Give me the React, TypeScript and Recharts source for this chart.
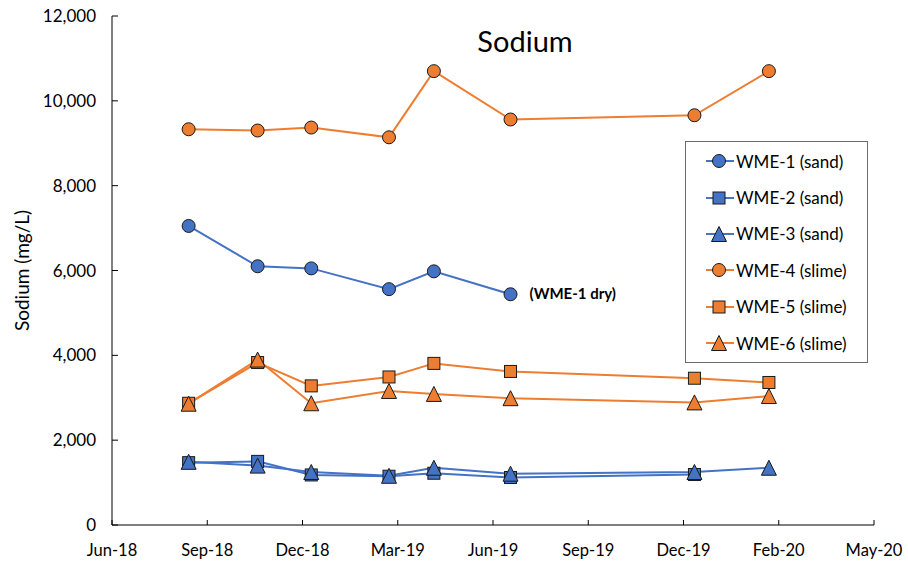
import { LineChart, Line, XAxis, YAxis, Legend, LabelList } from "recharts";

const BLUE = "#4472C4";
const ORANGE = "#ED7D31";
const EDGE = "#1a1a1a";

// sampling dates
const SAMPLE_DATES = ["2018-09-08", "2018-11-10", "2018-12-29", "2019-03-10", "2019-04-20", "2019-06-29", "2019-12-14", "2020-02-20"];

// Na, mg/L
const WME1 = [7050, 6100, 6050, 5560, 5980, 5440, null, null];
const WME2 = [1470, 1500, 1180, 1150, 1220, 1120, 1190, null];
const WME3 = [1490, 1400, 1250, 1160, 1350, 1210, 1250, 1350];
const WME4 = [9330, 9300, 9370, 9140, 10700, 9560, 9660, 10700];
const WME5 = [2870, 3830, 3280, 3490, 3810, 3620, 3460, 3360];
const WME6 = [2860, 3900, 2870, 3160, 3090, 2990, 2890, 3040];

const TICK_DATES = ["2018-06-30", "2018-09-25", "2018-12-21", "2019-03-18", "2019-06-13", "2019-09-08", "2019-12-04", "2020-02-29", "2020-05-26"];
const TICK_LABELS = ["Jun-18", "Sep-18", "Dec-18", "Mar-19", "Jun-19", "Sep-19", "Dec-19", "Feb-20", "May-20"];
const Y_TICKS = [0, 2000, 4000, 6000, 8000, 10000, 12000];

const DAY0 = Date.parse(TICK_DATES[0]);
const toDay = (s: string) => Math.round((Date.parse(s) - DAY0) / 86400000);
const X_TICKS = TICK_DATES.map(toDay);

const SERIES = [
  { key: "wme1", name: "WME-1 (sand)", color: BLUE, shape: "circle", values: WME1 },
  { key: "wme2", name: "WME-2 (sand)", color: BLUE, shape: "square", values: WME2 },
  { key: "wme3", name: "WME-3 (sand)", color: BLUE, shape: "triangle", values: WME3 },
  { key: "wme4", name: "WME-4 (slime)", color: ORANGE, shape: "circle", values: WME4 },
  { key: "wme5", name: "WME-5 (slime)", color: ORANGE, shape: "square", values: WME5 },
  { key: "wme6", name: "WME-6 (slime)", color: ORANGE, shape: "triangle", values: WME6 },
];

const data = SAMPLE_DATES.map((d, i) => {
  const row: Record<string, number | null> = { day: toDay(d) };
  SERIES.forEach(s => { row[s.key] = s.values[i]; });
  return row;
});

const FONT = "Lato, 'Open Sans', sans-serif";

function Marker({ shape, cx, cy, fill }: { shape: string; cx: number; cy: number; fill: string }) {
  if (shape === "circle") return <circle cx={cx} cy={cy} r={6.5} fill={fill} stroke={EDGE} strokeWidth={1} />;
  if (shape === "square") return <rect x={cx - 6} y={cy - 6} width={12} height={12} fill={fill} stroke={EDGE} strokeWidth={1} />;
  return <polygon points={`${cx},${cy - 7.5} ${cx + 7.5},${cy + 7.5} ${cx - 7.5},${cy + 7.5}`} fill={fill} stroke={EDGE} strokeWidth={1} />;
}

function LegendBox() {
  return (
    <div style={{ border: "1px solid #6b6b6b", background: "#fff", width: 183, height: 222, boxSizing: "border-box", paddingTop: 1 }}>
      {SERIES.map(s => (
        <div key={s.key} style={{ display: "flex", alignItems: "center", height: 36.4, paddingLeft: 20 }}>
          <svg width={28} height={18}>
            <line x1={0} x2={28} y1={9} y2={9} stroke={s.color} strokeWidth={2} />
            <Marker shape={s.shape} cx={13} cy={9} fill={s.color} />
          </svg>
          <span style={{ fontFamily: FONT, fontSize: 17, color: "#000", marginLeft: 2 }}>{s.name}</span>
        </div>
      ))}
    </div>
  );
}

export default function App() {
  return (
    <div style={{ position: "absolute", left: 0, top: 0, width: 908, height: 562, background: "#fff" }}>
      <div style={{ position: "absolute", left: 0, top: 23, width: 1050, textAlign: "center", fontFamily: FONT, fontSize: 29, color: "#000", zIndex: 2 }}>
        Sodium
      </div>
      <LineChart width={908} height={562} data={data} margin={{ top: 16, right: 34, bottom: 7, left: 0 }}>
        <XAxis
          dataKey="day"
          type="number"
          domain={[X_TICKS[0], X_TICKS[X_TICKS.length - 1]]}
          ticks={X_TICKS}
          tickFormatter={(v: number) => TICK_LABELS[X_TICKS.indexOf(v)]}
          interval={0}
          tickSize={-5}
          tickMargin={24}
          axisLine={{ stroke: "#000" }}
          tickLine={{ stroke: "#000" }}
          tick={{ fill: "#000", fontSize: 16.5, fontFamily: FONT }}
        />
        <YAxis
          domain={[0, 12000]}
          ticks={Y_TICKS}
          width={112}
          interval={0}
          tickSize={-6}
          tickMargin={22}
          tickFormatter={(v: number) => v.toLocaleString("en-US")}
          axisLine={{ stroke: "#000" }}
          tickLine={{ stroke: "#000" }}
          tick={{ fill: "#000", fontSize: 17, fontFamily: FONT }}
          label={{ value: "Sodium (mg/L)", angle: -90, position: "insideLeft", offset: 22, style: { textAnchor: "middle", fontSize: 19, fontFamily: FONT, fill: "#000" } }}
        />
        {SERIES.map(s => (
          <Line
            key={s.key}
            dataKey={s.key}
            name={s.name}
            type="linear"
            stroke={s.color}
            strokeWidth={2}
            isAnimationActive={false}
            dot={(p: any) =>
              p.cy == null || p.value == null ? <g key={`${s.key}-${p.index}`} /> : <Marker key={`${s.key}-${p.index}`} shape={s.shape} cx={p.cx} cy={p.cy} fill={s.color} />
            }
            activeDot={false}
          >
            {s.key === "wme1" && (
              <LabelList
                dataKey={s.key}
                content={(p: any) =>
                  p.index === 5 ? (
                    <text x={p.x + 19} y={p.y + 5} fontFamily={FONT} fontSize={15} fontWeight="bold" fill="#000">
                      (WME-1 dry)
                    </text>
                  ) : null
                }
              />
            )}
          </Line>
        ))}
        <Legend
          layout="vertical"
          align="center"
          verticalAlign="middle"
          wrapperStyle={{ left: 685, top: 141, width: 183, height: 222 }}
          content={() => <LegendBox />}
        />
      </LineChart>
    </div>
  );
}
